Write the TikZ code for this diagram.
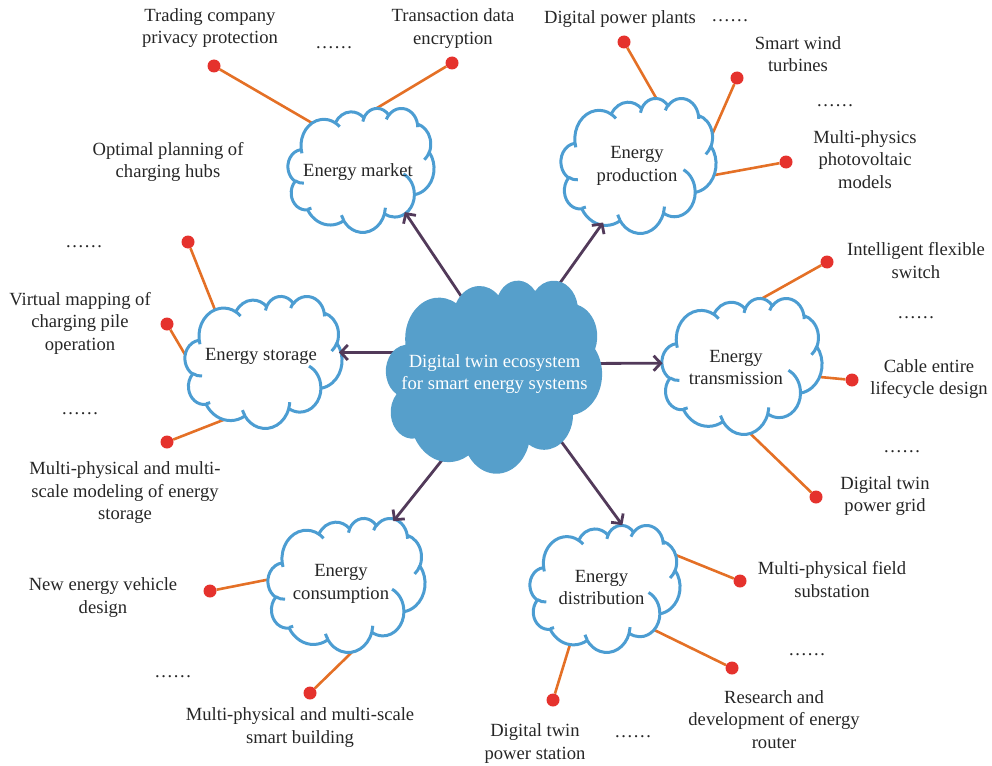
\documentclass[tikz,border=0pt]{standalone}
\usepackage{fontspec}
\setmainfont{Liberation Serif}
\usetikzlibrary{arrows.meta,shapes.geometric}
\pgfdeclarelayer{back}
\pgfsetlayers{back,main}
\definecolor{cblue}{RGB}{76,157,210}
\definecolor{cfill}{RGB}{86,159,203}
\definecolor{lorange}{RGB}{228,112,38}
\definecolor{dred}{RGB}{229,50,45}
\definecolor{apurple}{RGB}{82,58,90}
\definecolor{txt}{RGB}{38,38,38}
% arc of the PowerPoint cloud: radii a,b (1/100 of shape units), start angle, sweep (visual angles)
\newcommand\carc[4]{arc[start angle={-pa(#1,#2,#3)}, delta angle={-dl(#1,#2,#3,#4)}, x radius=#1pt, y radius=#2pt]}
\newcommand\cloudoutline{(39.00,143.70) \carc{67.53}{91.90}{-190.48748}{123.78053} \carc{53.33}{72.67}{-144.10238}{89.94523} \carc{43.65}{59.45}{-145.80792}{99.72302} \carc{48.57}{65.95}{-130.98607}{117.24173} \carc{53.33}{72.73}{-78.70888}{109.02692} \carc{67.75}{92.20}{-46.26725}{130.269} \carc{57.85}{78.67}{0.62502}{114.03333} \carc{67.52}{92.15}{22.4516}{115.17255} \carc{77.20}{105.43}{66.24263}{75.71102} \carc{43.60}{59.18}{-274.94208}{146.73557} \carc{43.45}{59.45}{-246.8285}{152.51885} -- cycle}
\newcommand\cloudcurls{(46.93,261.77) \carc{43.45}{59.45}{86.742}{26.4295} (69.28,348.99) \carc{43.60}{59.18}{73.61047}{11.44747} (164.78,390.90) \carc{67.52}{92.15}{137.62415}{14.0811} (288.27,347.51) \carc{67.52}{92.15}{6.45327}{15.99835} (341.29,229.54) \carc{57.85}{78.67}{-70.29235}{70.91737} (417.98,153.54) \carc{53.33}{72.73}{30.31803}{27.7515} (383.24,54.26) \carc{48.57}{65.95}{-13.74433}{14.8589} (290.78,39.52) \carc{48.57}{65.95}{-149.18145}{18.19537} (221.41,47.20) \carc{43.65}{59.45}{-163.49427}{17.68635} (140.00,51.92) \carc{67.53}{91.90}{-66.70695}{12.31935} (41.27,157.89) \carc{67.53}{91.90}{157.65435}{11.85817}}
% outlined cloud: cx cy w h
\newcommand\ocloud[4]{\begin{scope}[shift={({#1-#3/2},{#2-#4/2})}, xscale=#3/432, yscale=#4/432]
 \path[cstroke, fill=white] \cloudoutline;
 \path[cstroke] \cloudcurls;
\end{scope}}
% filled cloud: cx cy w h
\newcommand\fcloud[4]{\begin{scope}[shift={({#1-#3/2},{#2-#4/2})}, xscale=#3/432, yscale=#4/432]
 \path[fill=cfill] \cloudoutline;
\end{scope}}
\begin{document}
\begin{tikzpicture}[x=1pt,y=-1pt,
 declare function={pa(\ua,\ub,\ut)=atan2(\ua*sin(\ut),\ub*cos(\ut));
   dl(\va,\vb,\vs,\vw)=(pa(\va,\vb,\vs+\vw)-pa(\va,\vb,\vs))-360*round(((pa(\va,\vb,\vs+\vw)-pa(\va,\vb,\vs))-\vw)/360);},
 anch/.style={ellipse, draw=none, inner sep=0pt, outer sep=0pt},
 lbl/.style={align=center, text=txt, font=\fontsize{18.6}{22.5}\selectfont, inner sep=0pt},
 reddot/.style={circle, fill=dred, inner sep=0pt, minimum size=13pt},
 oline/.style={draw=lorange, line width=2.6pt},
 arr/.style={draw=apurple, line width=2.8pt, -{Straight Barb[length=7pt,width=15pt]}},
 cstroke/.style={draw=cblue, line width=3pt, line join=round}]
\useasboundingbox (0,0) rectangle (992,765);

% anchor ellipses of the clouds
\node[anch, minimum width=150pt, minimum height=135pt] (c) at (494,376.5) {};
\node[anch, minimum width=146pt, minimum height=124pt] (mk) at (361,170) {};
\node[anch, minimum width=155pt, minimum height=135pt] (pr) at (638.5,165.5) {};
\node[anch, minimum width=160pt, minimum height=136pt] (tr) at (742,366) {};
\node[anch, minimum width=150pt, minimum height=127pt] (di) at (605,588.5) {};
\node[anch, minimum width=157pt, minimum height=134pt] (co) at (346.5,585) {};
\node[anch, minimum width=157pt, minimum height=132pt] (st) at (263.5,362) {};

% cloud texts
\node[lbl, text=white] (ct) at (494.5,374) {Digital twin ecosystem\\for smart energy systems};
\node[lbl] (mkt) at (358,172) {Energy market};
\node[lbl] (prt) at (637,166) {Energy\\production};
\node[lbl] (trt) at (736,367.5) {Energy\\transmission};
\node[lbl] (dit) at (601.5,587.5) {Energy\\distribution};
\node[lbl] (cot) at (341,584) {Energy\\consumption};
\node[lbl] (stt) at (261,356) {Energy storage};

% dots
\node[reddot] (m1) at (214,66) {};
\node[reddot] (m2) at (452,63) {};
\node[reddot] (p1) at (624,42) {};
\node[reddot] (p2) at (737,78) {};
\node[reddot] (p3) at (786,162) {};
\node[reddot] (t1) at (827,262) {};
\node[reddot] (t2) at (852,380) {};
\node[reddot] (t3) at (816,497) {};
\node[reddot] (q1) at (740,581) {};
\node[reddot] (q2) at (732,668) {};
\node[reddot] (q3) at (553,700) {};
\node[reddot] (u1) at (210,591) {};
\node[reddot] (u2) at (310,693) {};
\node[reddot] (s1) at (188,242) {};
\node[reddot] (s2) at (167,324) {};
\node[reddot] (s3) at (167,442) {};

% leaf texts
\node[lbl] (lm1) at (210,28) {Trading company\\privacy protection};
\node[lbl] (lm2) at (334,48) {……};
\node[lbl] (lm3) at (453,28.5) {Transaction data\\encryption};
\node[lbl] (lm4) at (168,162) {Optimal planning of\\charging hubs};
\node[lbl] (lp1) at (620,19) {Digital power plants};
\node[lbl] (lp2) at (730,21) {……};
\node[lbl] (lp3) at (798,54) {Smart wind\\turbines};
\node[lbl] (lp4) at (835,106) {……};
\node[lbl] (lp5) at (865,159.5) {Multi-physics\\photovoltaic\\models};
\node[lbl] (lt1) at (916,260.5) {Intelligent flexible\\switch};
\node[lbl] (lt2) at (916,318) {……};
\node[lbl] (lt3) at (929,379) {Cable entire\\lifecycle design};
\node[lbl] (lt4) at (902,452) {……};
\node[lbl] (lt5) at (885,496) {Digital twin\\power grid};
\node[lbl] (ld1) at (832,579.5) {Multi-physical field\\substation};
\node[lbl] (ld2) at (807,655) {……};
\node[lbl] (ld3) at (774,719.5) {Research and\\development of energy\\router};
\node[lbl] (ld4) at (535,743.5) {Digital twin\\power station};
\node[lbl] (ld5) at (633,737) {……};
\node[lbl] (lc1) at (103,597.5) {New energy vehicle\\design};
\node[lbl] (lc2) at (173,677) {……};
\node[lbl] (lc3) at (300,727.5) {Multi-physical and multi-scale\\smart building};
\node[lbl] (ls1) at (84,247) {……};
\node[lbl] (ls2) at (80,323) {Virtual mapping of\\charging pile\\operation};
\node[lbl] (ls3) at (80,414) {……};
\node[lbl] (ls4) at (125,493) {Multi-physical and multi-\\scale modeling of energy\\storage};

\begin{pgfonlayer}{back}
% orange links
\draw[oline, shorten >=-4pt] (m1) -- (mk.136);
\draw[oline, shorten >=-2pt] (m2) -- (mk.77);
\draw[oline, shorten >=-2pt] (p1) -- (pr.74);
\draw[oline] (p2) -- (pr.20);
\draw[oline, shorten >=-2pt] (p3) -- (pr.-7);
\draw[oline, shorten >=-4pt] (t1) -- (tr.75);
\draw[oline, shorten >=-4pt] (t2) -- (tr.-8);
\draw[oline, shorten >=-2pt] (t3) -- (tr.-83);
\draw[oline] (q1) -- (di.32);
\draw[oline, shorten >=-9pt] (q2) -- (di.-39);
\draw[oline, shorten >=-4pt] (q3) -- (di.-122);
\draw[oline, shorten >=-2pt] (u1) -- (co.176);
\draw[oline, shorten >=-5pt] (u2) -- (co.-85);
\draw[oline, shorten >=-2pt] (s1) -- (st.133);
\draw[oline, shorten >=-4pt] (s2) -- (st.175);
\draw[oline, shorten >=-4pt] (s3) -- (st.-124);
% outlined clouds
\ocloud{361}{170}{146}{124}
\ocloud{638.5}{165.5}{155}{135}
\ocloud{742}{366}{160}{136}
\ocloud{605}{588.5}{150}{127}
\ocloud{346.5}{585}{157}{134}
\ocloud{263.5}{362}{157}{132}
% arrows
\draw[arr, shorten >=-6.2pt] (c.109) -- (mk.-45);
\draw[arr, shorten >=-2.8pt] (c.55) -- (pr.-122);
\draw[arr, shorten >=-0.5pt] (c.10) -- (tr.178);
\draw[arr, shorten >=2.4pt] (c.-41) -- (di.73);
\draw[arr, shorten >=8.8pt] (c.-119) -- (co.54);
\draw[arr, shorten >=-2.3pt] (c.161) -- (st.7);
% central cloud
\fcloud{494}{376.5}{216}{193}
\end{pgfonlayer}
\end{tikzpicture}
\end{document}
